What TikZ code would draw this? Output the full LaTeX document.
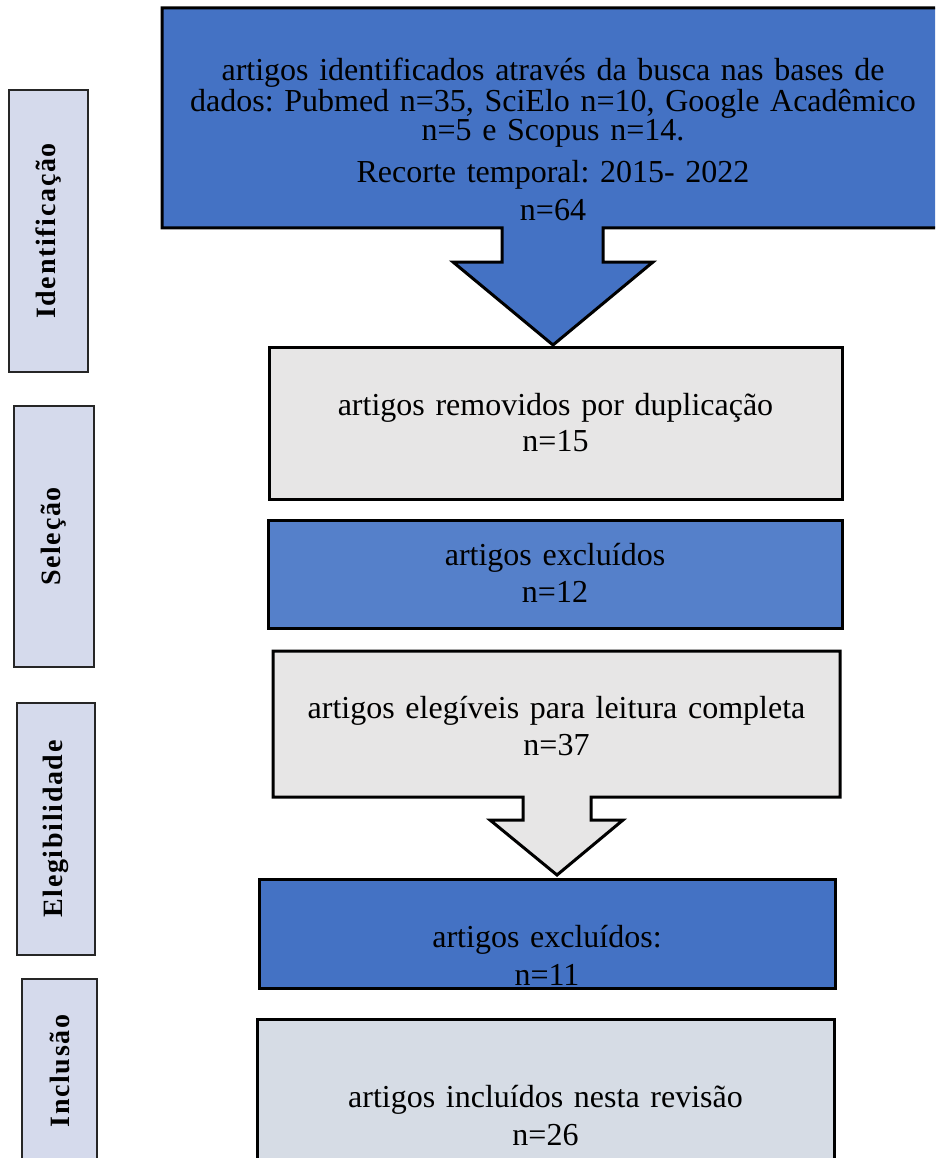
\documentclass[tikz,border=0pt]{standalone}
\usepackage{fontspec}
\setmainfont{Liberation Serif}
\newfontfamily\lblfont[LetterSpace=6]{Liberation Serif}
\definecolor{blueA}{HTML}{4472C4}
\definecolor{blueB}{HTML}{5580CA}
\definecolor{grayA}{HTML}{E7E6E6}
\definecolor{grayB}{HTML}{D6DCE5}
\definecolor{lblfill}{HTML}{D5DAEC}
\definecolor{lblborder}{HTML}{262626}
\lineskiplimit=-50pt
\frenchspacing
\begin{document}
\begin{tikzpicture}[x=1pt,y=-1pt,
  flow/.style={draw=black, line width=3pt, line join=miter},
  boxnode/.style={flow, minimum width=#1, inner sep=0pt},
  txt/.style={anchor=base, text width=900pt, align=center, inner sep=0pt,
    font=\fontsize{32}{#1}\selectfont},
  lbl/.style={draw=lblborder, line width=2.8pt, fill=lblfill, rotate=90,
    inner sep=0pt, font=\lblfont\bfseries\fontsize{28}{30}\selectfont}]
\useasboundingbox (0,0) rectangle (935,1158);
\clip (0,0) rectangle (935,1158);

% side labels
\node[lbl, minimum width=282, minimum height=79] (l1) at (48.5,231) {Identificação};
\node[lbl, minimum width=261, minimum height=80] (l2) at (54,536.5) {Seleção};
\node[lbl, minimum width=252, minimum height=78] (l3) at (56,829) {Elegibilidade};
\node[lbl, minimum width=184, minimum height=75] (l4) at (59.5,1071) {Inclusão};

% top box with arrow
\draw[flow, fill=blueA] (162,8) -- (944,8) -- (944,228) -- (603,228) -- (603,262)
  -- (653,262) -- (553,345) -- (453,262) -- (502,262) -- (502,228) -- (162,228) -- cycle;
\node[txt=28] (t1) at (553,81) {artigos identificados através da busca nas bases de\\
dados: Pubmed n=35, SciElo n=10, Google Acadêmico\\
n=5 e Scopus n=14.\\[12pt]
Recorte temporal: 2015- 2022\\[10pt]
n=64};

% box 2
\node[boxnode=573, minimum height=152, fill=grayA] (b2) at (555.5,423) {};
\node[txt=36] (t2) at (b2.center |- 0,415) {artigos removidos por duplicação\\ n=15};

% box 3
\node[boxnode=574, minimum height=108, fill=blueB] (b3) at (555,574) {};
\node[txt=37] (t3) at (b3.center |- 0,565) {artigos excluídos\\ n=12};

% box 4 with arrow
\draw[flow, fill=grayA] (273,651) -- (840,651) -- (840,797) -- (591,797) -- (591,820)
  -- (623,820) -- (557,875) -- (490,820) -- (523,820) -- (523,797) -- (273,797) -- cycle;
\node[txt=37] (t4) at (556.5,718) {artigos elegíveis para leitura completa\\ n=37};

% box 5
\node[boxnode=576, minimum height=109, fill=blueA] (b5) at (547,933.5) {};
\node[txt=38] (t5) at (b5.center |- 0,947) {artigos excluídos:\\ n=11};

% box 6
\node[boxnode=577, minimum height=146, fill=grayB] (b6) at (545.5,1092) {};
\node[txt=38] (t6) at (b6.center |- 0,1107) {artigos incluídos nesta revisão\\ n=26};
\end{tikzpicture}
\end{document}
